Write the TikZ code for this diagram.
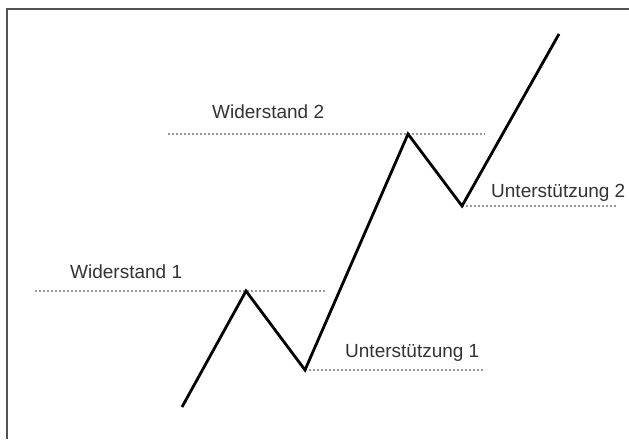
\documentclass[tikz,border=0pt]{standalone}
\usepackage{fontspec}
\setmainfont{Liberation Sans}
\begin{document}
\begin{tikzpicture}[x=1pt,y=-1pt,
  frameline/.style={draw=black!68,line width=1.8pt},
  trend/.style={draw=black,line width=2.8pt,line join=miter},
  level/.style={draw=black!40,line width=1.3pt,dash pattern=on 2pt off 2pt},
  lbl/.style={anchor=base west,inner sep=0pt,text=black!80,font=\fontsize{19}{22}\selectfont}]
\useasboundingbox (0,0) rectangle (629,439);
\fill[white] (0,0) rectangle (629,439);
\coordinate (fbl) at (7,439);
\coordinate (ftl) at (7,9);
\coordinate (ftr) at (629,9);
\draw[frameline] (fbl) -- (ftl) -- (ftr);
% trend points
\coordinate (s) at (182,407);
\coordinate (p1) at (246,291);
\coordinate (t1) at (305,370);
\coordinate (p2) at (408,134);
\coordinate (t2) at (462,206);
\coordinate (e) at (559,34);
% level line ends
\coordinate (w1a) at (35,291);
\coordinate (w1b) at (326,291);
\coordinate (u1b) at (485,370);
\coordinate (w2a) at (168,134);
\coordinate (w2b) at (485,134);
\coordinate (u2b) at (616,206);
\draw[level] (w1a) -- (w1b);
\draw[level] (t1) -- (u1b);
\draw[level] (w2a) -- (w2b);
\draw[level] (t2) -- (u2b);
\draw[trend] (s) -- (p1) -- (t1) -- (p2) -- (t2) -- (e);
\node[lbl] (lw1) at (70,278) {Widerstand 1};
\node[lbl] (lw2) at (212,118) {Widerstand 2};
\node[lbl] (lu1) at (345,357) {Unterstützung 1};
\node[lbl] (lu2) at (491,197) {Unterstützung 2};
\end{tikzpicture}
\end{document}
